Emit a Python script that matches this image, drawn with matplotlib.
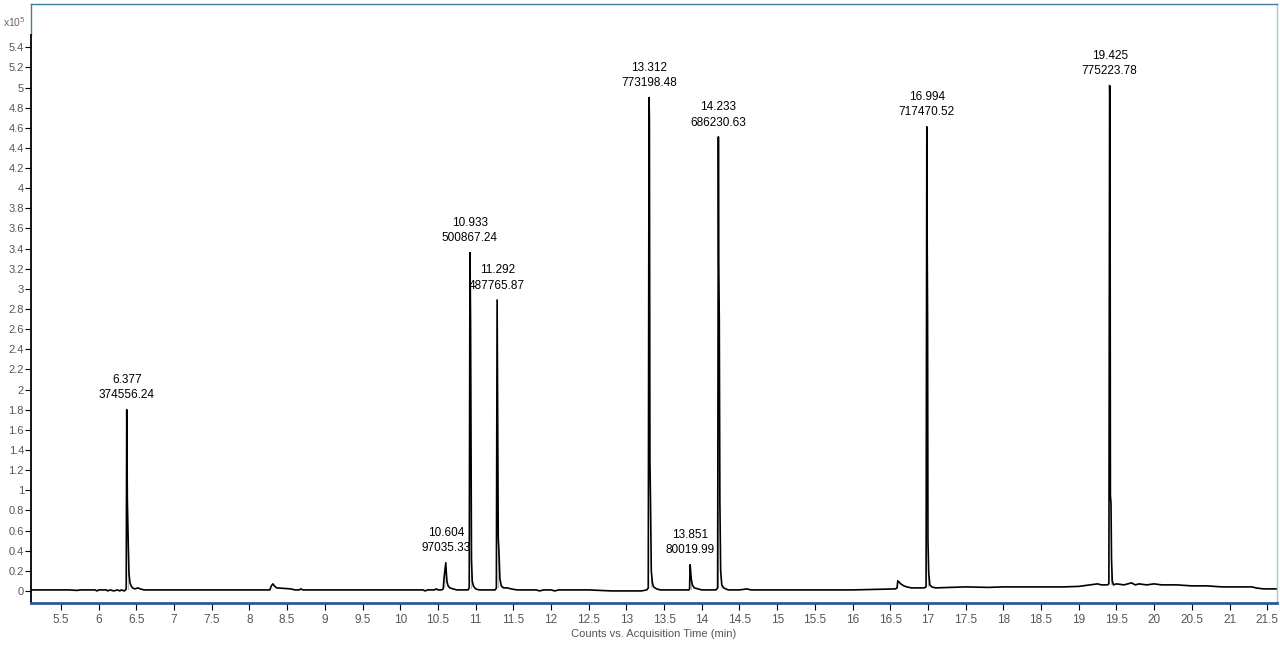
import numpy as np
import matplotlib
matplotlib.use("Agg")
import matplotlib.pyplot as plt

plt.rcParams['font.family'] = ['Liberation Sans Narrow', 'Liberation Sans', 'DejaVu Sans']
plt.rcParams['hatch.linewidth'] = 0.6

# chromatogram trace (counts in units of 1e5)
trace_t = [
    5.10, 5.60, 5.72, 5.75, 5.95, 5.98, 6.00, 6.10, 6.12, 6.15, 6.20, 6.25, 6.28, 6.30, 6.34, 6.355,
    6.365, 6.372, 6.380, 6.392, 6.402, 6.415, 6.43, 6.45, 6.48, 6.52, 6.55, 6.60,
    7.00, 7.50, 8.00, 8.27,
    8.29, 8.31, 8.33, 8.36, 8.45, 8.55, 8.60, 8.66, 8.68, 8.71,
    9.00, 9.50, 10.00, 10.30, 10.33, 10.36, 10.45, 10.48, 10.50, 10.55,
    10.57, 10.58, 10.595, 10.604, 10.612, 10.62, 10.635, 10.66, 10.70, 10.75,
    10.85, 10.90,
    10.915, 10.925, 10.933, 10.945, 10.955, 10.97, 11.00, 11.05,
    11.20, 11.26,
    11.275, 11.285, 11.292, 11.30, 11.31, 11.322, 11.34, 11.37, 11.42, 11.47, 11.55,
    11.80, 11.85, 11.90, 12.00, 12.05, 12.10, 12.30, 12.50, 12.80, 13.00, 13.20, 13.27,
    13.29, 13.30, 13.305, 13.312, 13.32, 13.33, 13.345, 13.36, 13.40, 13.45,
    13.70, 13.83,
    13.838, 13.845, 13.852, 13.86, 13.875, 13.90, 13.95, 14.00,
    14.19,
    14.21, 14.22, 14.225, 14.232, 14.24, 14.25, 14.265, 14.29, 14.35,
    14.50, 14.60, 14.65, 15.00, 15.20, 15.50, 15.70, 16.00, 16.30, 16.57,
    16.59, 16.60, 16.64, 16.68, 16.72, 16.78, 16.85, 16.95,
    16.975, 16.985, 16.99, 16.995, 17.00, 17.01, 17.025, 17.05, 17.10,
    17.50, 17.80, 18.00, 18.30, 18.50, 18.80, 19.00, 19.15, 19.25, 19.30, 19.38,
    19.40, 19.41, 19.415, 19.42, 19.428, 19.435, 19.445, 19.46, 19.50,
    19.60, 19.70, 19.75, 19.80, 19.90, 20.00, 20.10, 20.30, 20.50, 20.70, 20.90,
    21.10, 21.30, 21.35, 21.45, 21.62,
]
trace_y = [
    0.01, 0.01, 0.005, 0.01, 0.01, 0.0, 0.01, 0.01, 0.0, 0.01, 0.0, 0.01, 0.0, 0.01, 0.0, 0.01,
    0.02, 1.80, 0.90, 0.47, 0.17, 0.08, 0.05, 0.03, 0.02, 0.03, 0.02, 0.01,
    0.01, 0.01, 0.01, 0.01,
    0.05, 0.07, 0.05, 0.03, 0.025, 0.02, 0.01, 0.01, 0.02, 0.01,
    0.01, 0.01, 0.01, 0.01, 0.0, 0.01, 0.01, 0.02, 0.01, 0.01,
    0.02, 0.12, 0.22, 0.28, 0.17, 0.09, 0.05, 0.03, 0.02, 0.01,
    0.01, 0.01,
    0.03, 3.36, 2.66, 0.31, 0.10, 0.05, 0.02, 0.01,
    0.01, 0.01,
    0.03, 2.89, 1.77, 0.53, 0.38, 0.12, 0.05, 0.03, 0.03, 0.02, 0.01,
    0.01, 0.0, 0.01, 0.01, 0.0, 0.01, 0.01, 0.01, 0.0, 0.0, 0.0, 0.01,
    0.03, 4.90, 4.68, 1.30, 0.87, 0.20, 0.08, 0.04, 0.02, 0.01,
    0.01, 0.01,
    0.02, 0.26, 0.20, 0.12, 0.06, 0.03, 0.02, 0.01,
    0.01,
    0.03, 4.51, 3.27, 2.69, 0.87, 0.20, 0.06, 0.03, 0.01,
    0.01, 0.02, 0.01, 0.01, 0.01, 0.01, 0.01, 0.01, 0.015, 0.02,
    0.03, 0.10, 0.07, 0.05, 0.04, 0.03, 0.03, 0.03,
    0.04, 4.61, 3.42, 2.69, 0.50, 0.18, 0.06, 0.04, 0.03,
    0.04, 0.035, 0.04, 0.04, 0.04, 0.04, 0.045, 0.06, 0.07, 0.06, 0.06,
    0.07, 5.02, 4.86, 0.95, 0.87, 0.31, 0.10, 0.06, 0.07,
    0.06, 0.08, 0.06, 0.07, 0.06, 0.07, 0.06, 0.06, 0.05, 0.05, 0.04,
    0.04, 0.04, 0.03, 0.02, 0.02,
]

# labelled peaks
peak_rt = [6.377, 10.604, 10.933, 11.292, 13.312, 13.851, 14.233, 16.994, 19.425]
peak_rt_text = ["6.377", "10.604", "10.933", "11.292", "13.312", "13.851", "14.233", "16.994", "19.425"]
peak_area_text = ["374556.24", "97035.33", "500867.24", "487765.87", "773198.48",
                  "80019.99", "686230.63", "717470.52", "775223.78"]

t = np.array(trace_t)
y = np.array(trace_y)

fig = plt.figure(figsize=(12.8, 6.48), dpi=100)
ax = fig.add_axes([31 / 1280, 1 - 603 / 648, (1277 - 31) / 1280, (603 - 4) / 648])

# integration shading under each peak
for rt in peak_rt:
    m = (t >= rt - 0.03) & (t <= rt + 0.07)
    base = y[m].min()
    ax.fill_between(t[m], base, y[m], facecolor='none', edgecolor='#a0a0a0',
                    hatch='|||||', linewidth=0)

ax.plot(t, y, color='black', lw=1.2)

for rt, a, b in zip(peak_rt, peak_rt_text, peak_area_text):
    m = (t >= rt - 0.03) & (t <= rt + 0.03)
    top = y[m].max()
    ax.annotate(a + "\n" + b, xy=(t[m][y[m].argmax()], top), xytext=(0, 6),
                textcoords='offset points', ha='center', va='bottom',
                fontsize=8.5, linespacing=1.4, color='black')

ax.set_xlim(5.102, 21.63)
ax.set_ylim(-0.12, 5.83)

ax.set_xticks(np.arange(5.5, 21.51, 0.5))
ax.set_xticklabels(["%g" % v for v in np.arange(5.5, 21.51, 0.5)])
ax.set_yticks(np.arange(0, 5.41, 0.2))
ax.set_yticklabels(["%g" % round(v, 1) for v in np.arange(0, 5.41, 0.2)])
ax.tick_params(axis='x', direction='out', length=5, width=0.8, color='black',
               labelcolor='#555555', labelsize=8.5, pad=3)
ax.tick_params(axis='y', direction='out', length=4, width=0.8, color='black',
               labelcolor='#555555', labelsize=8, pad=1)

for s in ax.spines.values():
    s.set_linewidth(1)
ax.spines['top'].set_color('#3f7f9c')
ax.spines['right'].set_color('#a8c8e0')
ax.spines['bottom'].set_color('#2a5a9a')
ax.spines['bottom'].set_linewidth(2)
ax.spines['left'].set_color('black')
ax.spines['left'].set_linewidth(1.3)
ax.spines['left'].set_bounds(-0.12, 5.52)
ax.axvline(5.102, ymin=(5.52 + 0.12) / 5.95, ymax=1, color='#3f7f9c', lw=1, clip_on=False)

ax.set_xlabel("Counts vs. Acquisition Time (min)", fontsize=8, color='#555555', labelpad=2)
fig.text(3 / 1280, 1 - 22 / 648, r"x10$^{5}$", fontsize=7.5, color='#666666', va='center', ha='left')

fig.savefig("out.png", dpi=100)
